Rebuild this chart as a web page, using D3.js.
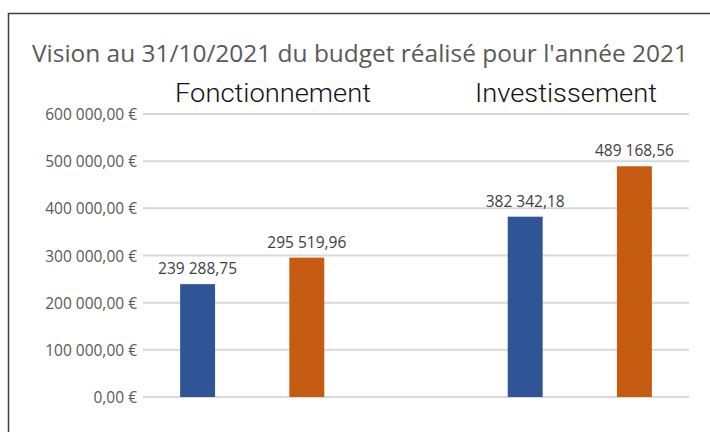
<!DOCTYPE html>
<html>
<head>
<meta charset="utf-8">
<script src="https://cdn.jsdelivr.net/npm/d3@7"></script>
<style>
  html, body { margin: 0; padding: 0; background: #fff; }
  svg { display: block; }
</style>
</head>
<body>
<svg id="chart" width="710" height="432"></svg>
<script>
// ---- Data ----
const title = "Vision au 31/10/2021 du budget réalisé pour l'année 2021";
const categories = ["Fonctionnement", "Investissement"];
const seriesA = [239288.75, 382342.18];
const seriesB = [295519.96, 489168.56];
const yTicks = [0, 100000, 200000, 300000, 400000, 500000, 600000];
const colors = ["#2F5597", "#C55A11"];

// ---- Layout ----
const W = 710, H = 432;
const plot = { left: 143, right: 689, top: 114, bottom: 397 };

const svg = d3.select("#chart");

const loc = d3.formatLocale({ decimal: ",", thousands: " ", grouping: [3], currency: ["", " €"] });
const fmtTick = v => loc.format(",.2f")(v) + " €";
const fmtLabel = loc.format(",.2f");

// slots: each category has two bars, with an empty slot between categories
const slots = [];
categories.forEach((c, i) => {
  if (i > 0) slots.push({ key: "gap" + i, value: null });
  slots.push({ key: c + "-A", value: seriesA[i], color: colors[0] });
  slots.push({ key: c + "-B", value: seriesB[i], color: colors[1] });
});

const x = d3.scaleBand()
  .domain(slots.map(s => s.key))
  .range([plot.left, plot.right])
  .paddingInner(0.68)
  .paddingOuter(0.34);

const y = d3.scaleLinear().domain([0, 600000]).range([plot.bottom, plot.top]);

// border (top + left)
svg.append("path")
  .attr("d", `M8.5,${H} L8.5,13.5 L${W},13.5`)
  .attr("fill", "none")
  .attr("stroke", "#3f3f3f")
  .attr("stroke-width", 1.5);

// axis labels
const yAxis = d3.axisLeft(y).tickValues(yTicks).tickSize(0).tickPadding(6).tickFormat(fmtTick);
const gAxis = svg.append("g").attr("transform", `translate(${plot.left},0)`).call(yAxis);
gAxis.select(".domain").remove();
gAxis.selectAll("text")
  .attr("font-family", "'Open Sans', sans-serif")
  .attr("font-size", 15.5)
  .attr("fill", "#595959")
  .attr("dy", "0.36em");

// gridlines
svg.append("g").selectAll("line")
  .data(yTicks)
  .join("line")
  .attr("x1", plot.left)
  .attr("x2", plot.right)
  .attr("y1", d => y(d))
  .attr("y2", d => y(d))
  .attr("stroke", "#D9D9D9")
  .attr("stroke-width", 2);

// bars
const barData = slots.filter(s => s.value !== null);
svg.append("g").selectAll("rect")
  .data(barData)
  .join("rect")
  .attr("x", d => x(d.key))
  .attr("width", x.bandwidth())
  .attr("y", d => y(d.value))
  .attr("height", d => y(0) - y(d.value))
  .attr("fill", d => d.color);

// data labels
svg.append("g").selectAll("text")
  .data(barData)
  .join("text")
  .attr("x", d => x(d.key) + x.bandwidth() / 2)
  .attr("y", d => y(d.value) - 10)
  .attr("text-anchor", "middle")
  .attr("font-family", "'Open Sans', sans-serif")
  .attr("font-size", 15.5)
  .attr("fill", "#404040")
  .text(d => fmtLabel(d.value));

// title
svg.append("text")
  .attr("x", 32)
  .attr("y", 62)
  .attr("font-family", "'Open Sans', sans-serif")
  .attr("font-size", 24)
  .attr("fill", "#595959")
  .attr("textLength", 656)
  .attr("lengthAdjust", "spacingAndGlyphs")
  .text(title);

// category headers (text boxes)
const headerBoxes = [{ x: 175, w: 196 }, { x: 475, w: 182 }];
svg.append("g").selectAll("text")
  .data(categories)
  .join("text")
  .attr("x", (d, i) => headerBoxes[i].x)
  .attr("y", 102)
  .attr("font-family", "Roboto, sans-serif")
  .attr("font-weight", 300)
  .attr("font-size", 26)
  .attr("fill", "#111")
  .attr("textLength", (d, i) => headerBoxes[i].w)
  .attr("lengthAdjust", "spacingAndGlyphs")
  .text(d => d);
</script>
</body>
</html>
